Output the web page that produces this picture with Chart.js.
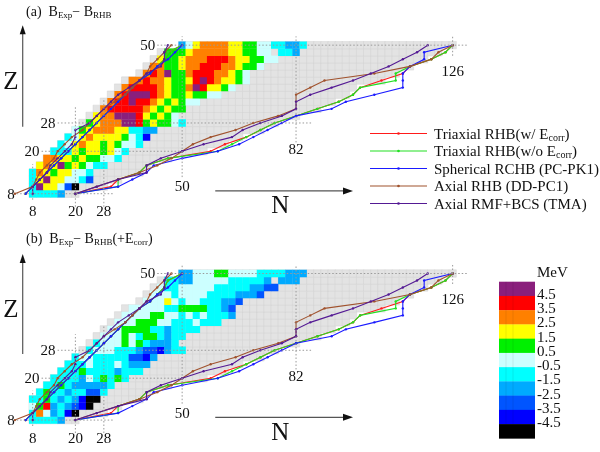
<!DOCTYPE html>
<html lang="en">
<head>
<meta charset="UTF-8">
<title>Binding energy deviations and drip lines</title>
<script src="https://cdn.jsdelivr.net/npm/chart.js@4.4.1/dist/chart.umd.min.js"></script>
<style>
  body { margin: 0; background: #fff; }
  #page { position: relative; width: 600px; height: 452px; }
  .panel { position: absolute; left: 0; width: 600px; height: 226px; }
</style>
</head>
<body>
<div id="page">
  <div class="panel" style="top:0"><canvas id="panelA" width="600" height="226"></canvas></div>
  <div class="panel" style="top:226px"><canvas id="panelB" width="600" height="226"></canvas></div>
</div>
<script>
// proton number of every row of even-even nuclei
const zRows = [8, 10, 12, 14, 16, 18, 20, 22, 24, 26, 28, 30, 32, 34, 36, 38, 40, 42, 44, 46, 48, 50];

// (a) B_Exp - B_RHB, MeV: first N of each row, then one value per even N (null = no data)
const firstNA = [8, 8, 8, 8, 10, 12, 14, 16, 18, 20, 24, 26, 28, 30, 32, 34, 36, 40, 42, 44, 46, 50];
const devA = [
  [-1, -1, -1, -1, -2],
  [-1, 5, 2, 2, 0, -3, -5],
  [-1, 2, 5, 2, 2, 0, 0, -1, -3],
  [-1, 3, 2, 1, 2, 2, 0, 0, -1],
  [2, 3, 2, 5, 1, 2, 1, 0, -1, -1],
  [3, 3, 2, 2, 1, 2, 1, 1, 0, 0, -1],
  [-1, -1, -1, 2, 1, 2, 2, 1, 2, 0, -1],
  [-1, 0, 2, 3, 2, 2, 1, 2, 1, 0, 0, -1],
  [-1, 0, 2, 3, 2, 2, 2, 2, 1, 0, -1, -4],
  [0, 1, 2, 3, 3, 3, 2, 2, -1, -1, -2, -2],
  [1, 2, 3, 3, 3, 5, 5, 4, 1, 2, 1, 1, 0, -1],
  [2, 3, 3, 5, 5, 5, 4, 2, 1, 2, 1, 0],
  [3, 4, 4, 4, 4, 4, 3, 2, 1, 2, 1, 1],
  [3, 4, 4, 5, 4, 4, 3, 2, 1, 2, 1, 0, 0],
  [3, 4, 5, 5, 5, 4, 3, 2, 1, 1, 2, 1, 1, 0, 0],
  [3, 4, 4, 4, 4, 3, 2, 1, 1, 3, 5, 4, 2, 2, 1, 0],
  [3, 3, 4, 3, 3, 2, 1, 1, 2, 4, 5, 4, 3, 2, 2, 1, 0],
  [3, 4, 3, 5, 1, 1, 3, 4, 4, 4, 3, 3, 2, 1, 0],
  [3, 3, 1, 1, 2, 3, 3, 4, 4, 4, 3, 3, 2, 1, 1, 0],
  [2, 1, 1, 2, 3, 3, 3, 4, 4, 4, 3, 2, 2, 1, 1, 0, 0],
  [1, 1, 1, 2, 3, 3, 3, 3, 3, 2, 2, 1, 1, 0, 0, null, -1, -1, -2],
  [-2, 0, 2, 3, 3, 3, 3, 2, 2, 1, 1, 0, 0, -1, -1, -2, -2, -1]
];

// (b) B_Exp - B_RHB(+E_corr), MeV
const firstNB = [8, 8, 8, 8, 10, 12, 14, 16, 18, 20, 24, 26, 28, 30, 32, 34, 36, 40, 42, 44, 46, 50];
const devB = [
  [-1, -1, -1, -1, -2],
  [-1, 3, 0, -2, -1, -4, -5],
  [0, 1, 4, -2, -1, -2, -3, -4, -5],
  [-1, -1, 1, -1, -2, -1, -2, -4, -5, -5],
  [-1, 1, -1, -1, -2, -1, -1, -3, -3, -1],
  [-1, -1, 1, -1, -2, -2, -2, -2, -2, -1],
  [-1, -1, -1, -1, -2, 0, -1, 1, -1, 1, -1],
  [-1, -1, -1, 1, -1, -1, -1, -1, -2, -1, -1, -1],
  [-1, -1, -1, 0, -1, -1, -1, 0, -1, -2, -2, -2],
  [-1, 0, 0, -1, -1, -1, -1, -1, -3, -3, -4, -2],
  [-1, 0, 0, 0, -1, -1, -1, -2, -3, -3, -4, -2, -1, -1],
  [-1, 0, 0, 0, 1, 0, 1, -1, -2, -2, -2, -1],
  [0, 0, 0, 1, 0, -1, 1, 1, -1, -2, -1, -1],
  [0, 0, 1, 1, 1, 1, -1, -1, -2, -1, -1, -1, -1],
  [0, 0, 0, 1, 1, 1, 0, 0, -1, -1, -1, 0, -1, -1, -1],
  [0, 0, 0, 0, 1, 1, 0, 0, -1, 0, -1, 0, -1, -1, -1, -2],
  [0, 0, 0, 0, 0, -1, -1, 1, 1, 1, 1, -1, -1, -2, -3],
  [0, 0, 0, 2, 0, -1, 0, 0, -1, -1, -1, -2, -2, -3],
  [0, 0, 0, -1, 0, 0, 0, 0, -1, -1, -1, -1, -2, -2, -2, -3],
  [0, -1, -1, 0, 0, 0, 0, 0, -1, -1, -1, -1, -1, -2, -2, -3, -3],
  [-1, -1, -2, -2, 0, 0, 0, 0, 0, -1, -1, -1, -1, -1, -2, null, -2, -2, -2],
  [-2, -2, 0, 0, 0, 1, 1, 0, 0, 0, 0, -1, -1, -1, -1, -2, -2, -2]
];

// light grey band of predicted bound even-even nuclei (first and last N per row)
const grayFirstN = [8, 8, 8, 8, 10, 12, 14, 16, 18, 20, 22, 24, 26, 28, 30, 32, 34, 38, 40, 42, 44, 50];
const grayLastN = [20, 28, 32, 38, 40, 46, 56, 62, 66, 72, 76, 82, 88, 92, 96, 98, 106, 110, 114, 118, 122, 126];

// drip lines, N at each zRows value
const modelNames = ["Triaxial RHB(w/ Ecorr)", "Triaxial RHB(w/o Ecorr)", "Spherical RCHB (PC-PK1)", "Axial RHB (DD-PC1)", "Axial RMF+BCS (TMA)"];
const modelColors = ["#ff1a1a", "#22e022", "#1a1aff", "#a0522d", "#541a94"];
const protonDrip = [
  [6, 8, 10, 12, 14, 16, 18, 20, 22, 24, 26, 28, 30, 32, 34, 36, 38, 41, 43, 45, 46, 50],
  [6, 8, 10, 12, 14, 16, 18, 20, 22, 24, 26, 28, 30, 32, 34, 36, 38, 41, 43, 45, 46, 50],
  [6, 8, 10, 12, 14, 16, 18, 20, 22, 24, 26, 28, 30, 32, 34, 36, 38, 41, 43, 46, 48, 50],
  [3, 8, 9, 10, 12, 14, 15, 17, 19, 22, 24, 26, 28, 31, 34, 36, 38, 40, 41, 43, 45, 47],
  [8, 8, 10, 12, 13, 15, 17, 19, 20, 20, 24, 26, 28, 30, 32, 35, 38, 40, 44, 45, 45, 46]
];
const neutronDrip = [
  [20, 30, 32, 38, 40, 46, 58, 62, 68, 72, 76, 82, 88, 94, 98, 100, 106, 112, 114, 120, 124, 126],
  [20, 32, 32, 38, 40, 46, 60, 64, 68, 72, 76, 82, 88, 94, 98, 100, 110, 110, 114, 120, 124, 126],
  [20, 32, 36, 40, 42, 50, 60, 66, 70, 74, 78, 82, 92, 96, 104, 112, 112, 112, 114, 118, 118, 126],
  [20, 26, 32, 38, 43, 47, 50, 53, 58, 65, 70, 77, 82, 82, 82, 86, 90, 104, 114, 120, 122, 126],
  [20, 26, 32, 40, 40, 44, 50, 56, 64, 67, 72, 78, 82, 82, 86, 92, 98, 103, 108, 112, 116, 119]
];

// colour scale
const levelBounds = [4.5, 3.5, 2.5, 1.5, 0.5, -0.5, -1.5, -2.5, -3.5, -4.5];
const levelColors = ["#8a1f7c", "#ff0000", "#ff8000", "#ffff00", "#00f000", "#ccffff", "#00ffff", "#00aaff", "#0055ff", "#0000ff", "#000000"];
const levelLabels = ["4.5", "3.5", "2.5", "1.5", "0.5", "-0.5", "-1.5", "-2.5", "-3.5", "-4.5"];

const magicN = [8, 20, 28, 50, 82, 126];
const magicZ = [8, 20, 28, 50];

const SERIF = '"Liberation Serif", "Times New Roman", serif';

function colorFor(v) {
  for (let i = 0; i < levelBounds.length; i++) {
    if (v > levelBounds[i]) return levelColors[i];
  }
  return levelColors[levelColors.length - 1];
}

function cellPoints(firstN, dev) {
  const pts = [];
  zRows.forEach((z, i) => dev[i].forEach((v, j) => {
    if (v !== null) pts.push({ x: firstN[i] + 2 * j, y: z, v: v });
  }));
  return pts;
}

function grayPoints() {
  const pts = [];
  zRows.forEach((z, i) => {
    for (let n = grayFirstN[i]; n <= grayLastN[i]; n += 2) pts.push({ x: n, y: z });
  });
  return pts;
}

function cellRadius(ctx) {
  const x = ctx.chart.scales.x;
  if (!x) return 5;
  return Math.abs(x.getPixelForValue(2) - x.getPixelForValue(0)) / Math.SQRT2 + 0.2;
}

function lineSet(nArr, k) {
  return {
    data: zRows.map((z, i) => ({ x: nArr[i], y: z })),
    showLine: true,
    borderColor: modelColors[k],
    backgroundColor: modelColors[k],
    borderWidth: 1.1,
    pointRadius: 1.2,
    pointBorderWidth: 0,
    tension: 0,
    order: 5 - k,
    clip: false
  };
}

function drawParts(ctx, x, y, parts) {
  for (const [text, size, dy] of parts) {
    ctx.font = size + "px " + SERIF;
    ctx.fillText(text, x, y + dy);
    x += ctx.measureText(text).width;
  }
}

function subParts(name, size) {
  // "Ecorr" is written with a subscript
  const i = name.indexOf("Ecorr");
  if (i < 0) return [[name, size, 0]];
  return [[name.slice(0, i + 1), size, 0], ["corr", size - 5, 2], [name.slice(i + 5), size, 0]];
}

const decor = {
  id: "decor",
  afterDatasetsDraw(chart, args, opts) {
    const ctx = chart.ctx;
    const X = v => chart.scales.x.getPixelForValue(v);
    const Y = v => chart.scales.y.getPixelForValue(v);
    ctx.save();

    // dotted guide lines at the magic numbers
    ctx.strokeStyle = "#9a9a9a";
    ctx.lineWidth = 1;
    ctx.setLineDash([1.5, 2]);
    const hSpan = { 8: [3.5, 31], 20: [10.5, 50], 28: [15, 86.5], 50: [43, 130.5] };
    const vSpan = { 8: [6.3, 16.4], 20: [4.3, 32.6], 28: [4.3, 35], 50: [12.7, 52.5], 82: [22.5, 52.5], 126: [47, 52.5] };
    magicZ.forEach(z => {
      ctx.beginPath();
      ctx.moveTo(X(hSpan[z][0]), Y(z));
      ctx.lineTo(X(hSpan[z][1]), Y(z));
      ctx.stroke();
    });
    magicN.forEach(n => {
      ctx.beginPath();
      ctx.moveTo(X(n), Y(vSpan[n][0]));
      ctx.lineTo(X(n), Y(vSpan[n][1]));
      ctx.stroke();
    });
    ctx.setLineDash([]);

    // magic-number labels
    ctx.fillStyle = "#111";
    ctx.font = "15px " + SERIF;
    ctx.textBaseline = "middle";
    ctx.textAlign = "right";
    magicZ.forEach(z => ctx.fillText(String(z), X(hSpan[z][0]) - 2, Y(z) + 1));
    ctx.textAlign = "center";
    const nLabelZ = { 8: 2.7, 20: 2.7, 28: 2.7, 50: 9.8, 82: 20.3, 126: 42.4 };
    magicN.forEach(n => ctx.fillText(String(n), X(n), Y(nLabelZ[n])));

    // axis arrows
    ctx.strokeStyle = "#555";
    ctx.lineWidth = 1.2;
    const zx = X(5.2), zy0 = Y(26.9), zy1 = Y(55.6);
    ctx.beginPath(); ctx.moveTo(zx, zy0); ctx.lineTo(zx, zy1 + 6); ctx.stroke();
    ctx.fillStyle = "#111";
    ctx.beginPath(); ctx.moveTo(zx, zy1); ctx.lineTo(zx - 3, zy1 + 9); ctx.lineTo(zx + 3, zy1 + 9); ctx.closePath(); ctx.fill();
    const ny = Y(8.8), nx0 = X(59.3), nx1 = X(98);
    ctx.beginPath(); ctx.moveTo(nx0, ny); ctx.lineTo(nx1 - 6, ny); ctx.stroke();
    ctx.beginPath(); ctx.moveTo(nx1, ny); ctx.lineTo(nx1 - 10, ny - 3.5); ctx.lineTo(nx1 - 10, ny + 3.5); ctx.closePath(); ctx.fill();
    ctx.font = "25px " + SERIF;
    ctx.fillText("Z", X(1.9), Y(39.4));
    ctx.fillText("N", X(77.6), Y(4.3));

    // panel title
    ctx.textAlign = "left";
    ctx.textBaseline = "alphabetic";
    drawParts(ctx, 26, opts.titleY, opts.title);

    if (opts.legend) {
      modelNames.forEach((name, k) => {
        const y = 133.5 + k * 17.5;
        ctx.strokeStyle = modelColors[k];
        ctx.fillStyle = modelColors[k];
        ctx.lineWidth = 1.2;
        ctx.beginPath(); ctx.moveTo(370, y); ctx.lineTo(427, y); ctx.stroke();
        ctx.beginPath(); ctx.arc(398.5, y, 1.3, 0, Math.PI * 2); ctx.fill();
        ctx.fillStyle = "#111";
        drawParts(ctx, 434, y + 5, subParts(name, 15));
      });
    }

    if (opts.colorbar) {
      const left = 499, w = 36, top = 55.7, h = 14.24;
      levelColors.forEach((c, i) => {
        ctx.fillStyle = c;
        ctx.fillRect(left, top + i * h, w, h + 0.3);
      });
      ctx.strokeStyle = "rgba(0,0,0,0.10)";
      ctx.lineWidth = 0.8;
      [left + 7, left + 14].forEach(x => {
        ctx.beginPath(); ctx.moveTo(x, top); ctx.lineTo(x, top + h * levelColors.length); ctx.stroke();
      });
      ctx.fillStyle = "#111";
      ctx.font = "15px " + SERIF;
      ctx.textBaseline = "middle";
      levelLabels.forEach((t, i) => ctx.fillText(t, 537, top + (i + 1) * h - 1));
      ctx.fillText("MeV", 537, 47);
    }
    ctx.restore();
  }
};

function makePanel(id, firstN, dev, pad, decorOpts) {
  const datasets = [];
  protonDrip.forEach((arr, k) => datasets.push(lineSet(arr, k)));
  neutronDrip.forEach((arr, k) => datasets.push(lineSet(arr, k)));
  datasets.push({
    data: cellPoints(firstN, dev),
    pointStyle: "rect",
    pointRadius: cellRadius,
    backgroundColor: c => (c.raw ? colorFor(c.raw.v) : "#fff"),
    pointBorderWidth: 0,
    order: 20
  });
  datasets.push({
    data: grayPoints(),
    pointStyle: "rect",
    pointRadius: cellRadius,
    backgroundColor: "#e3e3e3",
    pointBorderColor: "#d2d2d2",
    pointBorderWidth: 0.5,
    order: 21
  });
  return new Chart(document.getElementById(id), {
    type: "scatter",
    data: { datasets },
    options: {
      responsive: false,
      animation: false,
      events: [],
      layout: { padding: pad },
      scales: {
        x: { type: "linear", min: 0, max: 166, display: false },
        y: { type: "linear", min: 0, max: 60, display: false }
      },
      plugins: { legend: { display: false }, tooltip: { enabled: false }, decor: decorOpts }
    },
    plugins: [decor]
  });
}

makePanel("panelA", firstNA, devA, { left: 4.2, right: 5, top: 9.8, bottom: 2.8 }, {
  titleY: 15.5,
  title: [["(a)  B", 14, 0], ["Exp", 9, 2], ["\u2212 B", 14, 0], ["RHB", 9, 2]],
  legend: true
});
makePanel("panelB", firstNB, devB, { left: 4.2, right: 5, top: 12.6, bottom: 1 }, {
  titleY: 17.3,
  title: [["(b)  B", 14, 0], ["Exp", 9, 2], ["\u2212 B", 14, 0], ["RHB", 9, 2], ["(+E", 14, 0], ["corr", 9, 2], [")", 14, 0]],
  colorbar: true
});
</script>
</body>
</html>
